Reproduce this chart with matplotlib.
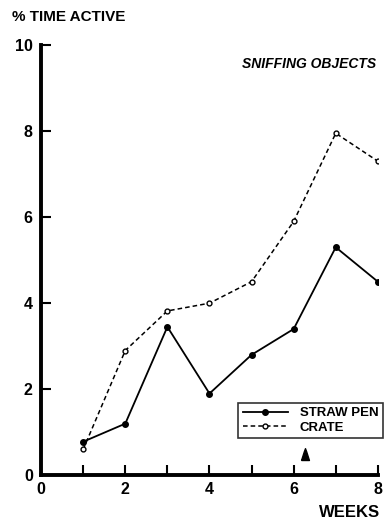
import numpy as np
import matplotlib.pyplot as plt

plt.rcParams['font.family'] = ['Liberation Sans', 'DejaVu Sans']
plt.rcParams['font.weight'] = 'bold'

weeks = [1, 2, 3, 4, 5, 6, 7, 8]
straw_pen = [0.78, 1.2, 3.45, 1.9, 2.8, 3.4, 5.3, 4.5]
crate = [0.6, 2.9, 3.82, 4.0, 4.5, 5.9, 7.95, 7.3]
arrow_week = 6.28

fig = plt.figure(figsize=(3.84, 5.24), dpi=100)
ax = fig.add_axes([0.107, 0.093, 0.877, 0.821])

ax.plot(weeks, straw_pen, color='black', lw=1.3, marker='o', ms=4,
        label='STRAW PEN')
ax.plot(weeks, crate, color='black', lw=1.1, ls=(0, (3, 2)), marker='o',
        ms=3.5, mfc='white', mew=1.0, label='CRATE')

# arrow marking week of change (tall thin triangle)
arrow = [(-1, 0), (1, 0), (0.3, 2.2), (0, 3), (-0.3, 2.2), (-1, 0)]
ax.plot([arrow_week], [0.35], marker=arrow, color='black', ms=17,
        clip_on=False, ls='none')

ax.set_xlim(0, 8)
ax.set_ylim(0, 10)
ax.set_xticks([0, 2, 4, 6, 8])
ax.set_xticks([1, 3, 5, 7], minor=True)
ax.set_yticks([0, 2, 4, 6, 8, 10])
for s in ['top', 'right']:
    ax.spines[s].set_visible(False)
for s in ['left', 'bottom']:
    ax.spines[s].set_linewidth(2.8)
ax.tick_params(axis='both', which='both', direction='in', width=1.5,
               labelsize=11.5)
ax.tick_params(axis='y', which='major', length=7, pad=6)
ax.tick_params(axis='x', which='major', length=7, pad=5)
ax.tick_params(axis='x', which='minor', length=7)

fig.text(0.03, 0.967, '% TIME ACTIVE', fontsize=11, ha='left',
         va='center')
fig.text(0.99, 0.022, 'WEEKS', fontsize=12, ha='right', va='center')
ax.text(0.995, 0.955, 'SNIFFING OBJECTS', transform=ax.transAxes,
        ha='right', va='center', fontsize=10, fontweight='heavy',
        fontstyle='italic')

leg = ax.legend(loc='lower right', bbox_to_anchor=(1.015, 0.086),
                fontsize=9.5, frameon=True, fancybox=False,
                edgecolor='black', handlelength=3.4, borderpad=0.35,
                labelspacing=0.15, handletextpad=0.9, borderaxespad=0)
leg.get_frame().set_linewidth(1.2)

fig.savefig('out.png', dpi=100)
